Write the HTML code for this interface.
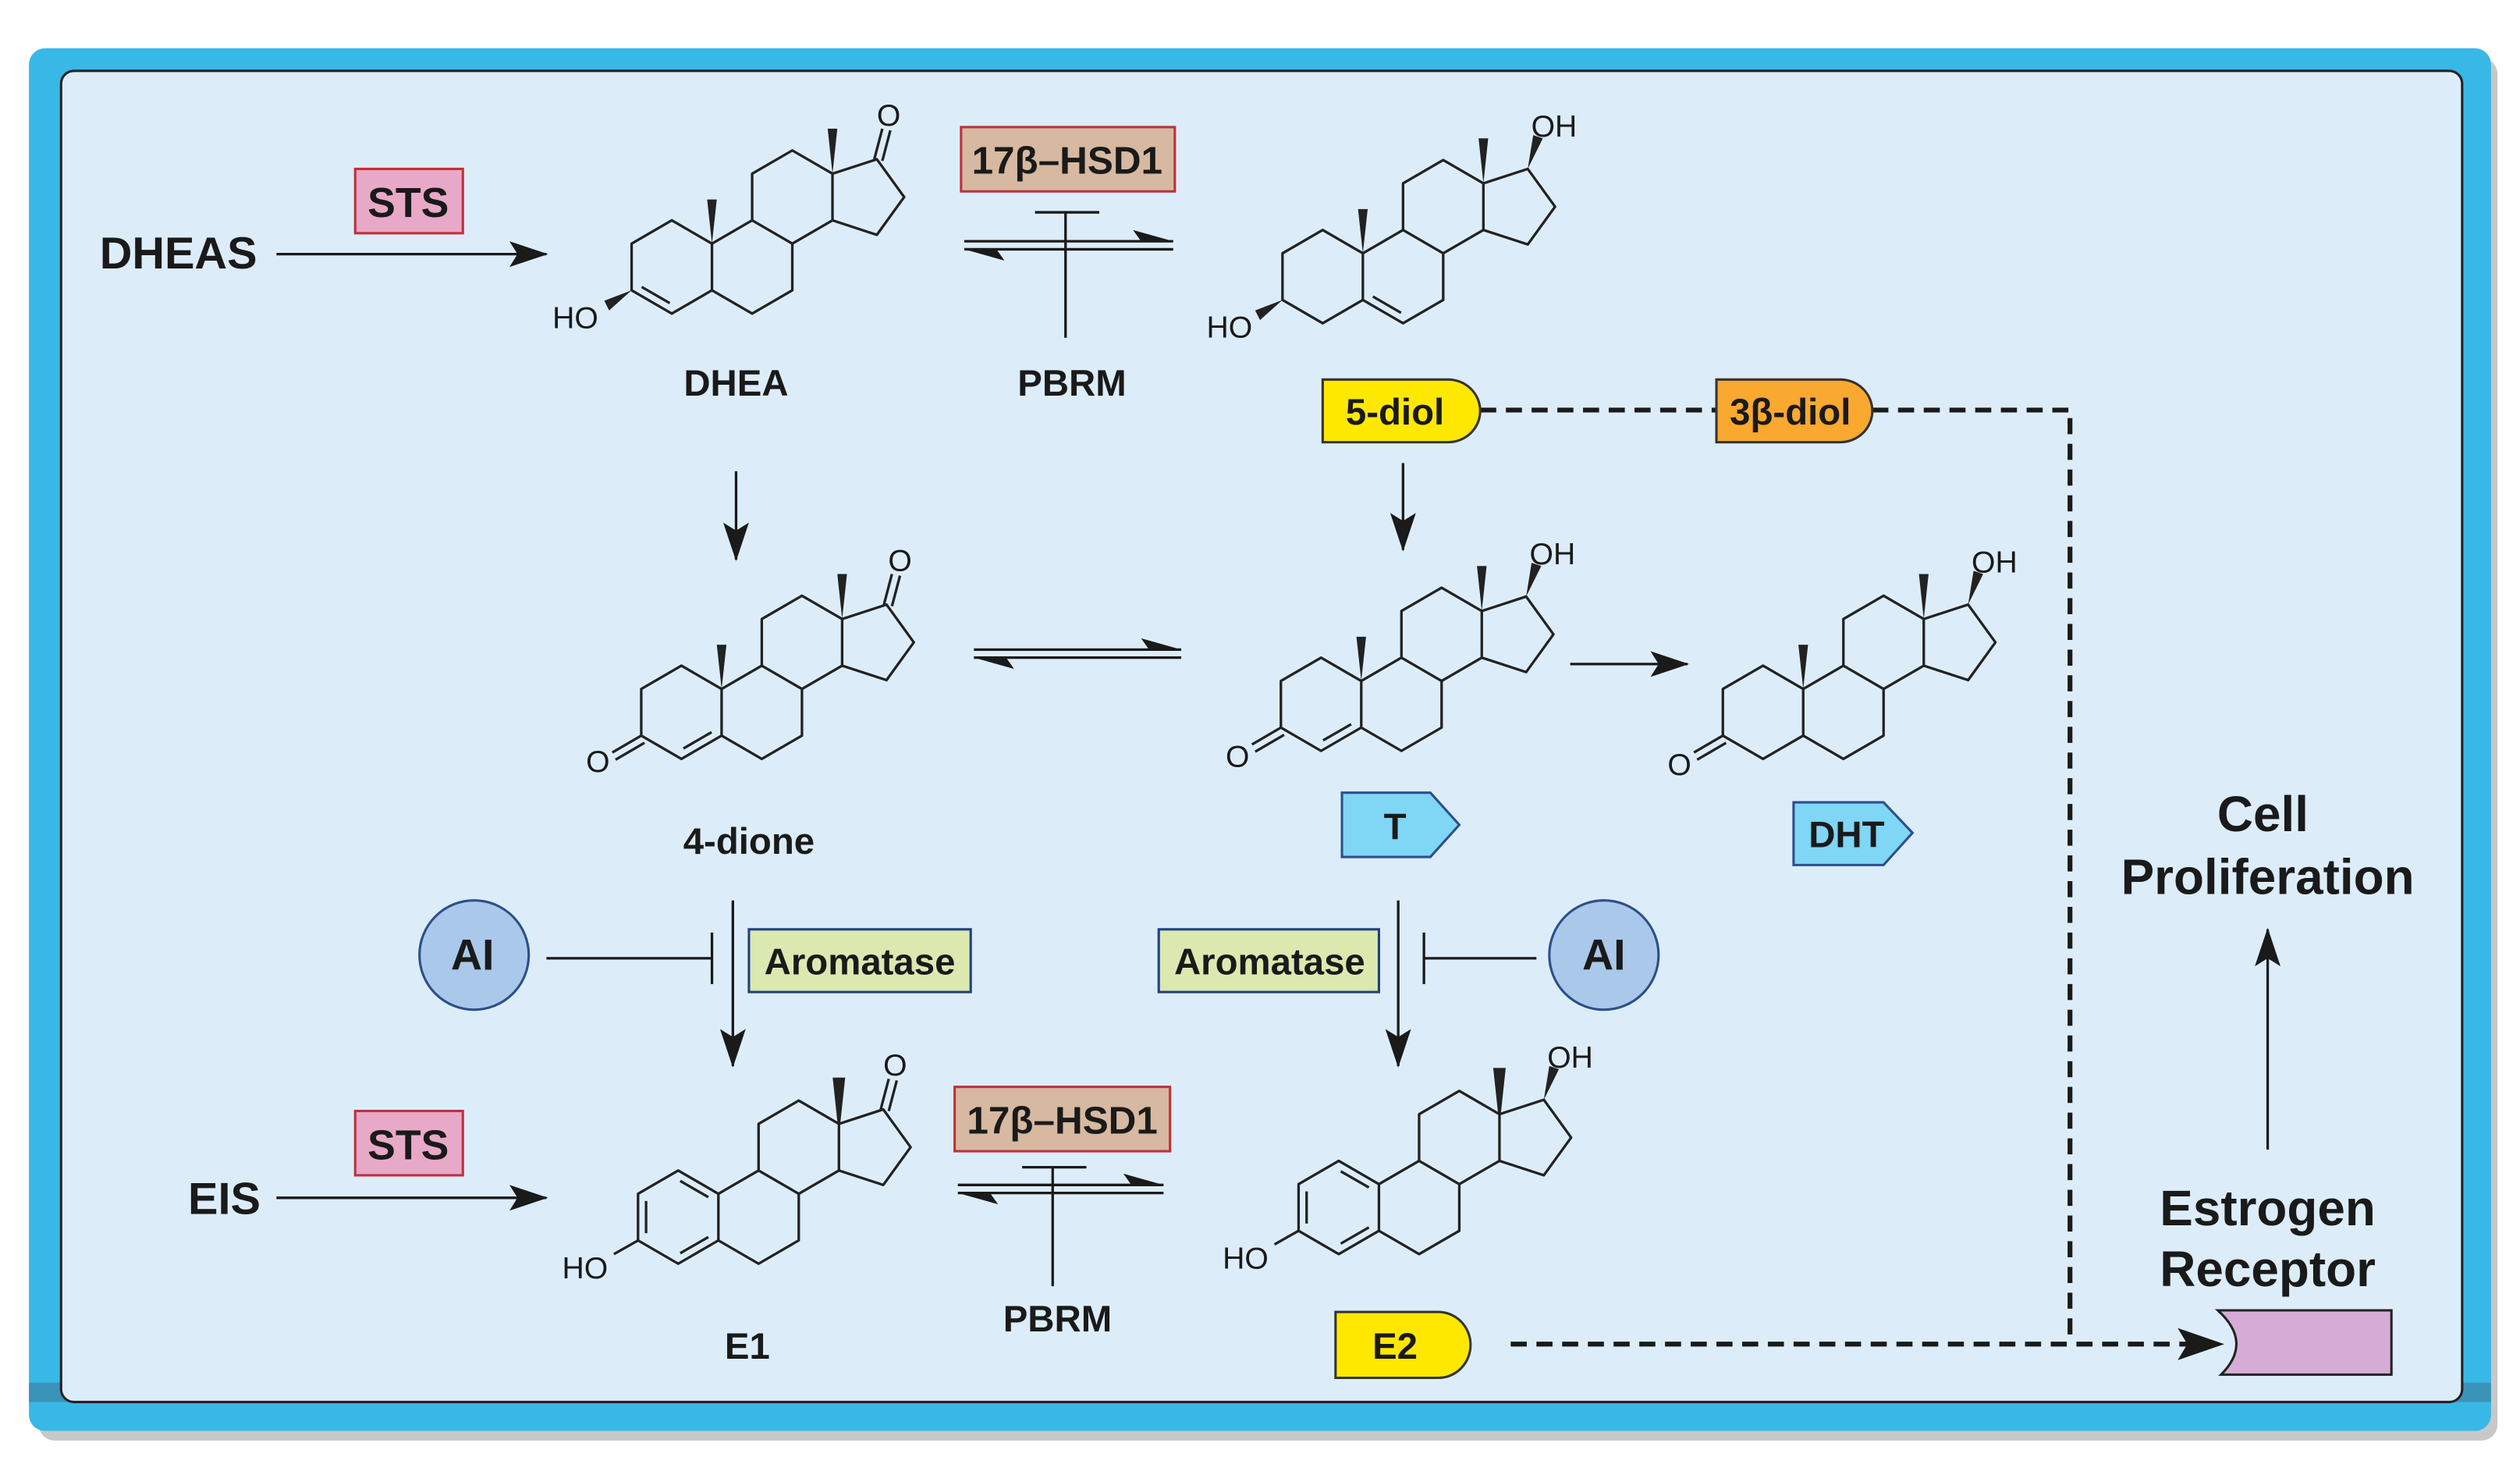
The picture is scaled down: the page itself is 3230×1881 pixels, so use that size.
<!DOCTYPE html>
<html><head><meta charset="utf-8"><style>
html,body{margin:0;padding:0;background:#fff;}
svg{display:block;}
.b{font-family:"Liberation Sans Narrow","Liberation Sans",sans-serif;font-weight:bold;fill:#1a1a1a;}
.r{font-family:"Liberation Sans Narrow","Liberation Sans",sans-serif;fill:#1a1a1a;font-size:19px;}
</style></head><body>
<svg width="3230" height="1881" viewBox="0 0 1568 913" xmlns="http://www.w3.org/2000/svg">
<defs>
<marker id="ahb" markerWidth="24" markerHeight="16" refX="23" refY="8" orient="auto" markerUnits="userSpaceOnUse" viewBox="0 0 24 16">
<path d="M0,0 L24,8 L0,16 L5,8 Z" fill="#1a1a1a"/></marker>
<g id="sk" fill="none" stroke="#222" stroke-width="1.6" stroke-linejoin="round">
<polygon points="-25,-14.5 0,-29 25,-14.5 25,14.5 0,29 -25,14.5"/>
<polyline points="25,-14.5 50,-29 75,-14.5 75,14.5 50,29 25,14.5"/>
<polyline points="50,-29 50,-58 75,-72.5 100,-58 100,-29 75,-14.5"/>
<polyline points="100,-58 127.6,-67 144.6,-43.5 127.6,-20 100,-29"/>
</g>
<polygon id="m13" points="100,-58 97,-86 103,-86" fill="#222"/>
<polygon id="m10" points="25,-14.5 22,-42 28,-42" fill="#222"/>
</defs>
<!-- frame -->
<rect x="24" y="36" width="1530" height="860" rx="10" fill="#c8c8c8"/>
<rect x="18" y="30" width="1532" height="860" rx="10" fill="#38b8e6"/>
<rect x="18" y="860" width="1532" height="12" fill="#3a93b8"/>
<rect x="38" y="44" width="1494" height="828" rx="8" fill="#dcedf9" stroke="#222" stroke-width="1.5"/>

<!-- DHEA -->
<g transform="translate(418,166)">
<use href="#sk"/><use href="#m10"/><use href="#m13"/>
<line x1="-18.75" y1="12.4" x2="-1.25" y2="22.5" stroke="#222" stroke-width="1.6"/>
<line x1="126" y1="-67" x2="131" y2="-86" stroke="#222" stroke-width="1.6"/>
<line x1="131" y1="-66" x2="136" y2="-85" stroke="#222" stroke-width="1.6"/>
<text x="135" y="-88" class="r" text-anchor="middle">O</text>
<polygon points="-25,14.5 -42,21 -39,27" fill="#222"/>
<text x="-60" y="38" class="r" text-anchor="middle">HO</text>
</g>
<!-- 5-diol -->
<g transform="translate(823,172)">
<use href="#sk"/><use href="#m10"/><use href="#m13"/>
<line x1="31.25" y1="12.4" x2="48.75" y2="22.5" stroke="#222" stroke-width="1.6"/>
<polygon points="127.6,-67 131,-88 137,-86" fill="#222"/>
<text x="144" y="-87" class="r" text-anchor="middle">OH</text>
<polygon points="-25,14.5 -42,21 -39,27" fill="#222"/>
<text x="-58" y="38" class="r" text-anchor="middle">HO</text>
</g>
<!-- 4-dione -->
<g transform="translate(424,443)">
<use href="#sk"/><use href="#m10"/><use href="#m13"/>
<line x1="1.25" y1="22.5" x2="18.75" y2="12.4" stroke="#222" stroke-width="1.6"/>
<line x1="126" y1="-67" x2="131" y2="-86" stroke="#222" stroke-width="1.6"/>
<line x1="131" y1="-66" x2="136" y2="-85" stroke="#222" stroke-width="1.6"/>
<text x="136" y="-88" class="r" text-anchor="middle">O</text>
<line x1="-25" y1="14.5" x2="-43" y2="25" stroke="#222" stroke-width="1.6"/>
<line x1="-23" y1="19" x2="-41" y2="29.5" stroke="#222" stroke-width="1.6"/>
<text x="-52" y="37" class="r" text-anchor="middle">O</text>
</g>
<!-- T -->
<g transform="translate(822,438)">
<use href="#sk"/><use href="#m10"/><use href="#m13"/>
<line x1="1.25" y1="22.5" x2="18.75" y2="12.4" stroke="#222" stroke-width="1.6"/>
<polygon points="127.6,-67 131,-88 137,-86" fill="#222"/>
<text x="144" y="-87" class="r" text-anchor="middle">OH</text>
<line x1="-25" y1="14.5" x2="-43" y2="25" stroke="#222" stroke-width="1.6"/>
<line x1="-23" y1="19" x2="-41" y2="29.5" stroke="#222" stroke-width="1.6"/>
<text x="-52" y="39" class="r" text-anchor="middle">O</text>
</g>
<!-- DHT -->
<g transform="translate(1097,443)">
<use href="#sk"/><use href="#m10"/><use href="#m13"/>
<polygon points="127.6,-67 131,-88 137,-86" fill="#222"/>
<text x="144" y="-87" class="r" text-anchor="middle">OH</text>
<line x1="-25" y1="14.5" x2="-43" y2="25" stroke="#222" stroke-width="1.6"/>
<line x1="-23" y1="19" x2="-41" y2="29.5" stroke="#222" stroke-width="1.6"/>
<text x="-52" y="39" class="r" text-anchor="middle">O</text>
</g>
<!-- E1 -->
<g transform="translate(422,757)" stroke="#222" stroke-width="1.6">
<use href="#sk"/><use href="#m13"/>
<line x1="-20" y1="-10" x2="-20" y2="10"/>
<line x1="1.25" y1="-22.5" x2="18.75" y2="-12.4"/>
<line x1="18.75" y1="12.4" x2="1.25" y2="22.5"/>
<line x1="126" y1="-67" x2="131" y2="-86"/>
<line x1="131" y1="-66" x2="136" y2="-85"/>
<text x="135" y="-88" class="r" text-anchor="middle" stroke="none">O</text>
<line x1="-25" y1="14.5" x2="-40" y2="23"/>
<text x="-58" y="38" class="r" text-anchor="middle" stroke="none">HO</text>
</g>
<!-- E2 -->
<g transform="translate(833,751)" stroke="#222" stroke-width="1.6">
<use href="#sk"/><use href="#m13"/>
<line x1="-20" y1="-10" x2="-20" y2="10"/>
<line x1="1.25" y1="-22.5" x2="18.75" y2="-12.4"/>
<line x1="18.75" y1="12.4" x2="1.25" y2="22.5"/>
<polygon points="127.6,-67 131,-88 137,-86" fill="#222" stroke="none"/>
<text x="144" y="-87" class="r" text-anchor="middle" stroke="none">OH</text>
<line x1="-25" y1="14.5" x2="-40" y2="23"/>
<text x="-58" y="38" class="r" text-anchor="middle" stroke="none">HO</text>
</g>

<g stroke="#1a1a1a" stroke-width="1.6" fill="none">
<line x1="172" y1="158" x2="340" y2="158" marker-end="url(#ahb)"/>
<line x1="172" y1="745" x2="340" y2="745" marker-end="url(#ahb)"/>
<line x1="600" y1="150" x2="730" y2="150"/><line x1="600" y1="155" x2="730" y2="155"/>
<line x1="644" y1="132" x2="684" y2="132"/><line x1="663" y1="132" x2="663" y2="210"/>
<line x1="606" y1="404" x2="735" y2="404"/><line x1="606" y1="409" x2="735" y2="409"/>
<line x1="596" y1="737" x2="724" y2="737"/><line x1="596" y1="742" x2="724" y2="742"/>
<line x1="636" y1="726" x2="676" y2="726"/><line x1="655" y1="726" x2="655" y2="800"/>
<line x1="458" y1="293" x2="458" y2="348" marker-end="url(#ahb)"/>
<line x1="873" y1="288" x2="873" y2="342" marker-end="url(#ahb)"/>
<line x1="977" y1="413" x2="1050" y2="413" marker-end="url(#ahb)"/>
<line x1="456" y1="560" x2="456" y2="663" marker-end="url(#ahb)"/>
<line x1="870" y1="560" x2="870" y2="663" marker-end="url(#ahb)"/>
<line x1="1411" y1="715" x2="1411" y2="578" marker-end="url(#ahb)"/>
<line x1="340" y1="596" x2="443" y2="596"/><line x1="443" y1="580" x2="443" y2="612"/>
<line x1="956" y1="596" x2="886" y2="596"/><line x1="886" y1="580" x2="886" y2="612"/>
</g>
<g fill="#1a1a1a">
<polygon points="730,150 705,143 710,150"/><polygon points="600,155 625,162 620,155"/>
<polygon points="735,404 710,397 715,404"/><polygon points="606,409 631,416 626,409"/>
<polygon points="724,737 699,730 704,737"/><polygon points="596,742 621,749 616,742"/>
</g>
<g stroke="#1a1a1a" stroke-width="3" fill="none" stroke-dasharray="10,6">
<line x1="921" y1="255" x2="1068" y2="255"/>
<polyline points="1165,255 1288,255 1288,836"/>
<line x1="940" y1="836" x2="1362" y2="836"/>
</g>
<polygon points="1355,826 1384,836 1355,846 1361,836" fill="#1a1a1a"/>

<!-- boxes -->
<rect x="221" y="105" width="67" height="40" fill="#e8a9c8" stroke="#c0303a" stroke-width="1.5"/>
<text x="254" y="135" class="b" font-size="26" text-anchor="middle">STS</text>
<rect x="221" y="691" width="67" height="40" fill="#e8a9c8" stroke="#c0303a" stroke-width="1.5"/>
<text x="254" y="721" class="b" font-size="26" text-anchor="middle">STS</text>
<rect x="598" y="79" width="133" height="40" fill="#d6b9a0" stroke="#c0303a" stroke-width="1.5"/>
<text x="664" y="108" class="b" font-size="24" text-anchor="middle">17β–HSD1</text>
<rect x="594" y="676" width="134" height="40" fill="#d6b9a0" stroke="#c0303a" stroke-width="1.5"/>
<text x="661" y="705" class="b" font-size="24" text-anchor="middle">17β–HSD1</text>
<rect x="466" y="578" width="138" height="39" fill="#dbe8b0" stroke="#223f80" stroke-width="1.5"/>
<text x="535" y="606" class="b" font-size="23" text-anchor="middle">Aromatase</text>
<rect x="721" y="578" width="137" height="39" fill="#dbe8b0" stroke="#223f80" stroke-width="1.5"/>
<text x="790" y="606" class="b" font-size="23" text-anchor="middle">Aromatase</text>
<circle cx="295" cy="594" r="34" fill="#a9c8ea" stroke="#2c4f8a" stroke-width="1.5"/>
<text x="294" y="603" class="b" font-size="27" text-anchor="middle">AI</text>
<circle cx="998" cy="594" r="34" fill="#a9c8ea" stroke="#2c4f8a" stroke-width="1.5"/>
<text x="998" y="603" class="b" font-size="27" text-anchor="middle">AI</text>
<path d="M823,236 H901 A20,19.5 0 0 1 901,275 H823 Z" fill="#ffe800" stroke="#333" stroke-width="1.5"/>
<text x="868" y="264" class="b" font-size="23" text-anchor="middle">5-diol</text>
<path d="M1068,236 H1145 A20,19.5 0 0 1 1145,275 H1068 Z" fill="#f9a830" stroke="#333" stroke-width="1.5"/>
<text x="1114" y="264" class="b" font-size="23" text-anchor="middle">3β-diol</text>
<path d="M831,816 H895 A20,20.5 0 0 1 895,857 H831 Z" fill="#ffe800" stroke="#333" stroke-width="1.5"/>
<text x="868" y="845" class="b" font-size="23" text-anchor="middle">E2</text>
<path d="M835,493 H890 L908,513 L890,533 H835 Z" fill="#7fd6f5" stroke="#2c4f8a" stroke-width="1.5"/>
<text x="868" y="522" class="b" font-size="23" text-anchor="middle">T</text>
<path d="M1116,499 H1172 L1190,518 L1172,538 H1116 Z" fill="#7fd6f5" stroke="#2c4f8a" stroke-width="1.5"/>
<text x="1149" y="527" class="b" font-size="23" text-anchor="middle">DHT</text>
<path d="M1380,815 H1488 V855 H1382 Q1402,835 1380,815 Z" fill="#d6acd6" stroke="#222" stroke-width="1.5"/>

<!-- labels -->
<text x="62" y="167" class="b" font-size="28">DHEAS</text>
<text x="117" y="755" class="b" font-size="28">EIS</text>
<text x="458" y="246" class="b" font-size="23" text-anchor="middle">DHEA</text>
<text x="667" y="246" class="b" font-size="23" text-anchor="middle">PBRM</text>
<text x="466" y="531" class="b" font-size="23" text-anchor="middle">4-dione</text>
<text x="465" y="845" class="b" font-size="23" text-anchor="middle">E1</text>
<text x="658" y="828" class="b" font-size="23" text-anchor="middle">PBRM</text>
<text x="1408" y="517" class="b" font-size="31" text-anchor="middle">Cell</text>
<text x="1411" y="556" class="b" font-size="31" text-anchor="middle">Proliferation</text>
<text x="1411" y="762" class="b" font-size="31" text-anchor="middle">Estrogen</text>
<text x="1411" y="800" class="b" font-size="31" text-anchor="middle">Receptor</text>
</svg>
</body></html>
